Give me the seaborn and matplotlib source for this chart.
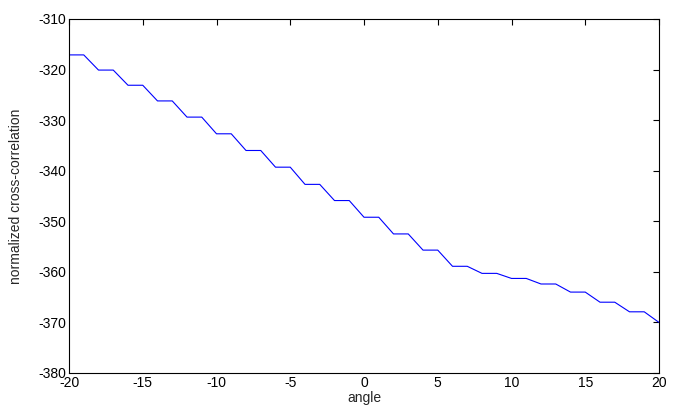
import numpy as np
import pandas as pd
import matplotlib
matplotlib.use("Agg")
import matplotlib.pyplot as plt
import seaborn as sns

angle = list(range(-20, 21))
corr = [-317.1, -317.1, -320.1, -320.1, -323.1, -323.1, -326.2, -326.2,
        -329.4, -329.4, -332.7, -332.7, -336.0, -336.0, -339.3, -339.3,
        -342.7, -342.7, -345.9, -345.9, -349.2, -349.2, -352.5, -352.5,
        -355.7, -355.7, -358.9, -358.9, -360.3, -360.3, -361.3, -361.3,
        -362.4, -362.4, -364.0, -364.0, -366.0, -366.0, -367.9, -367.9,
        -370.0]
xticks = [-20, -15, -10, -5, 0, 5, 10, 15, 20]
yticks = [-380, -370, -360, -350, -340, -330, -320, -310]

df = pd.DataFrame({"angle": angle, "corr": corr})

sns.set_style("white")
plt.rcParams["font.family"] = ["Liberation Sans", "DejaVu Sans"]
plt.rcParams["font.size"] = 10
plt.rcParams["axes.unicode_minus"] = False

fig = plt.figure(figsize=(6.78, 4.18), dpi=100)
ax = fig.add_axes([69 / 678, 45 / 418, 590 / 678, 354 / 418])
sns.lineplot(data=df, x="angle", y="corr", color="#0000ff", linewidth=0.8, ax=ax)

ax.set_xlim(-20, 20)
ax.set_ylim(-380, -310)
ax.set_xticks(xticks)
ax.set_yticks(yticks)
ax.tick_params(direction="in", top=True, right=True, length=4, width=0.8,
               labelsize=10, colors="black", pad=2)
for s in ax.spines.values():
    s.set_color("black")
    s.set_linewidth(0.8)
ax.set_xlabel("angle", fontsize=10, labelpad=1)
ax.set_ylabel("normalized cross-correlation", fontsize=10, labelpad=11)

fig.savefig("out.png", dpi=100)
